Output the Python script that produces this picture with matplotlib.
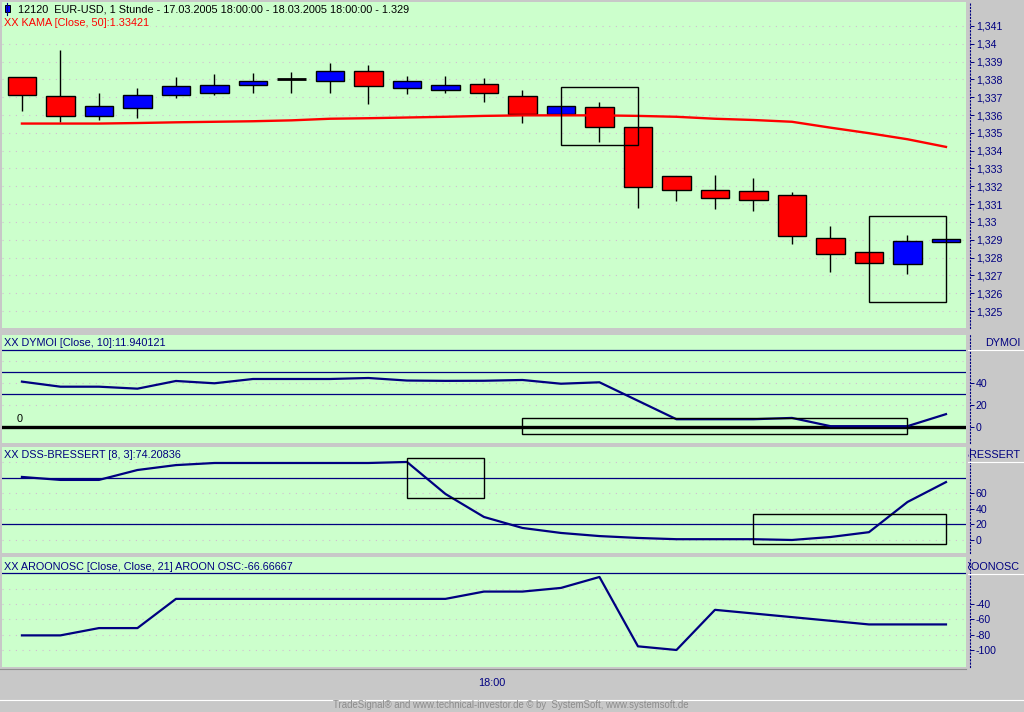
import matplotlib
matplotlib.use('Agg')
import matplotlib.pyplot as plt
from matplotlib.patches import Rectangle
from matplotlib.transforms import Bbox, TransformedBbox

plt.rcParams['font.family'] = ['Liberation Sans', 'DejaVu Sans']
plt.rcParams['axes.unicode_minus'] = False

# EUR-USD, 1 Stunde candles
opens = [1.33816, 1.33708, 1.33593, 1.33641, 1.33711, 1.33725, 1.33767, 1.33801, 1.33792, 1.33847,
         1.33750, 1.33742, 1.33775, 1.33708, 1.33606, 1.33647, 1.33535, 1.33256, 1.33178, 1.33173,
         1.33151, 1.32911, 1.32833, 1.32766, 1.32889]
closes = [1.33711, 1.33593, 1.33648, 1.33714, 1.33764, 1.33769, 1.33793, 1.33801, 1.33847, 1.33764,
          1.33792, 1.33769, 1.33725, 1.33608, 1.33652, 1.33535, 1.33195, 1.33178, 1.33137, 1.33123,
          1.32922, 1.32822, 1.32772, 1.32894, 1.32906]
highs = [1.33816, 1.33966, 1.33726, 1.33749, 1.33816, 1.33832, 1.33838, 1.33843, 1.33894, 1.33883,
         1.33821, 1.33821, 1.33805, 1.33743, 1.33652, 1.33671, 1.33535, 1.33256, 1.33264, 1.33247,
         1.33169, 1.32980, 1.32833, 1.32929, 1.32906]
lows = [1.33622, 1.33559, 1.33574, 1.33583, 1.33695, 1.33711, 1.33723, 1.33723, 1.33723, 1.33661,
        1.33717, 1.33723, 1.33672, 1.33555, 1.33606, 1.33449, 1.33081, 1.33120, 1.33070, 1.33059,
        1.32875, 1.32719, 1.32772, 1.32710, 1.32889]
kama = [1.33552, 1.33552, 1.33552, 1.33555, 1.33559, 1.33562, 1.33565, 1.33570, 1.33579, 1.33582,
        1.33586, 1.33590, 1.33595, 1.33598, 1.33598, 1.33598, 1.33595, 1.33590, 1.33579, 1.33572,
        1.33562, 1.33529, 1.33498, 1.33464, 1.33421]

dymoi = [41.5, 36.9, 36.9, 35.1, 42.1, 40.0, 43.9, 43.9, 43.9, 44.8, 42.5, 42.2, 42.3, 43.0, 39.6,
         40.9, 24.1, 7.3, 7.3, 7.3, 8.5, 1.0, 1.0, 1.0, 11.94]
dss = [80.8, 77.0, 77.0, 89.7, 96.0, 98.7, 98.7, 98.7, 98.7, 98.7, 100.0, 59.0, 29.5, 15.4, 9.0,
       5.0, 2.6, 1.0, 1.0, 1.0, 0.0, 3.8, 10.0, 48.7, 74.21]
aroon = [-80.95, -80.95, -71.43, -71.43, -33.33, -33.33, -33.33, -33.33, -33.33, -33.33, -33.33,
         -33.33, -23.81, -23.81, -19.05, -4.76, -95.24, -100.0, -47.62, -52.38, -57.14, -61.90,
         -66.67, -66.67, -66.67]

# marked boxes: (x from, x to, y low, y high)
boxes_main = [(14, 16, 1.33429, 1.33758), (22, 24, 1.32549, 1.33033)]
boxes_dymoi = [(13, 23, -6.4, 8.2)]
boxes_dss = [(10, 12, 53.8, 105.0), (19, 24, -5.1, 33.3)]

main_ticks = [1.325, 1.326, 1.327, 1.328, 1.329, 1.330, 1.331, 1.332, 1.333, 1.334, 1.335,
              1.336, 1.337, 1.338, 1.339, 1.340, 1.341]
main_labels = ['1,325', '1,326', '1,327', '1,328', '1,329', '1,33', '1,331', '1,332', '1,333',
               '1,334', '1,335', '1,336', '1,337', '1,338', '1,339', '1,34', '1,341']
dymoi_ticks = [0, 20, 40]
dss_ticks = [0, 20, 40, 60]
aroon_ticks = [-100, -80, -60, -40]

W, H = 1024, 712
GREEN = '#ccffcc'
NAVY = '#000080'
GRIDC = '#d2bcd2'
FS = 7.6
TFS = 7.8

fig = plt.figure(figsize=(W / 100, H / 100), dpi=100, facecolor='#c8c8c8')


def panel(top, bottom):
    ax = fig.add_axes([2 / W, 1 - bottom / H, 964 / W, (bottom - top) / H])
    ax.set_facecolor(GREEN)
    for s in ['top', 'left', 'bottom']:
        ax.spines[s].set_visible(False)
    ax.spines['right'].set_position(('outward', 3))
    ax.spines['right'].set_linestyle((0, (1, 2)))
    ax.spines['right'].set_color(NAVY)
    ax.spines['right'].set_linewidth(0.8)
    ax.yaxis.tick_right()
    ax.tick_params(axis='y', direction='out', length=3, width=0.7, color=NAVY,
                   labelcolor=NAVY, labelsize=FS, pad=1)
    ax.set_xticks([])
    ax.set_xlim(-0.518, 24.52)
    return ax


def px(x, y):
    return x / W, 1 - y / H


def dotted(ax, values):
    for v in values:
        ax.axhline(v, color=GRIDC, lw=0.8, ls=(0, (1, 5)), zorder=1)


ax1 = panel(2, 328)
ax2 = panel(335, 443)
ax3 = panel(447, 553)
ax4 = panel(557, 667)

# main price panel
ax1.set_ylim(1.32405, 1.34234)
ax1.set_yticks(main_ticks)
ax1.set_yticklabels(main_labels)
dotted(ax1, main_ticks)
x = list(range(len(opens)))
for i in x:
    o, c, hi, lo = opens[i], closes[i], highs[i], lows[i]
    ax1.vlines(i, lo, hi, color='black', lw=1.0, zorder=2)
    if c == o:
        ax1.hlines(o, i - 0.37, i + 0.37, color='black', lw=2, zorder=3)
    else:
        col = '#0000ff' if c > o else '#ff0000'
        ax1.add_patch(Rectangle((i - 0.37, min(o, c)), 0.74, abs(c - o), facecolor=col,
                                edgecolor='black', lw=1.0, zorder=3))
ax1.plot(x, kama, color='#ff0000', lw=1.7, zorder=4)
for x0, x1, y0, y1 in boxes_main:
    ax1.add_patch(Rectangle((x0, y0), x1 - x0, y1 - y0, fill=False, edgecolor='black', lw=1.0, zorder=5))

# DYMOI
ax2.set_ylim(-14.3, 83.9)
ax2.set_yticks(dymoi_ticks)
dotted(ax2, [20, 40, 60])
for v in [30, 50, 70]:
    ax2.axhline(v, color=NAVY, lw=0.9, zorder=2)
ax2.axhline(0, color='black', lw=2.4, zorder=2)
ax2.plot(x, dymoi, color=NAVY, lw=1.6, zorder=3)
for x0, x1, y0, y1 in boxes_dymoi:
    ax2.add_patch(Rectangle((x0, y0), x1 - x0, y1 - y0, fill=False, edgecolor='black', lw=1.0, zorder=4))

# DSS-BRESSERT
ax3.set_ylim(-16.7, 119.2)
ax3.set_yticks(dss_ticks)
dotted(ax3, [0, 20, 40, 60, 80, 100])
for v in [20, 80]:
    ax3.axhline(v, color=NAVY, lw=0.9, zorder=2)
ax3.plot(x, dss, color=NAVY, lw=1.6, zorder=3)
for x0, x1, y0, y1 in boxes_dss:
    ax3.add_patch(Rectangle((x0, y0), x1 - x0, y1 - y0, fill=False, edgecolor='black', lw=1.0, zorder=4))

# AROONOSC
ax4.set_ylim(-122.2, 21.3)
ax4.set_yticks(aroon_ticks)
dotted(ax4, [-20, -40, -60, -80, -100])
ax4.axhline(0, color=NAVY, lw=0.9, zorder=2)
ax4.plot(x, aroon, color=NAVY, lw=1.6, zorder=3)

# titles
fig.add_artist(plt.Line2D([7 / W, 7 / W], [1 - 3 / H, 1 - 15 / H], color=NAVY, lw=0.8))
fig.add_artist(Rectangle(px(4.5, 12), 5 / W, 7 / H, facecolor='#0000ff', edgecolor='black', lw=0.7))
fig.text(*px(18, 9.5), '12120  EUR-USD, 1 Stunde - 17.03.2005 18:00:00 - 18.03.2005 18:00:00 - 1.329',
         fontsize=TFS, color='black', va='center', ha='left')
fig.text(*px(4, 23), 'XX KAMA [Close, 50]:1.33421', fontsize=TFS, color='#ff0000',
         va='center', ha='left', bbox=dict(facecolor=GREEN, edgecolor='none', pad=0.5))
fig.text(*px(4, 343), 'XX DYMOI [Close, 10]:11.940121', fontsize=TFS, color=NAVY, va='center', ha='left')
fig.text(*px(17, 419), '0', fontsize=TFS, color='black', va='center', ha='left')
fig.text(*px(4, 455), 'XX DSS-BRESSERT [8, 3]:74.20836', fontsize=TFS, color=NAVY, va='center', ha='left',
         bbox=dict(facecolor=GREEN, edgecolor='none', pad=0.5))
fig.text(*px(4, 567), 'XX AROONOSC [Close, Close, 21] AROON OSC:-66.66667', fontsize=TFS, color=NAVY,
         va='center', ha='left')

# panel names in the right strip (clipped like the original)
strip = TransformedBbox(Bbox.from_extents(968 / W, 0, 1, 1), fig.transFigure)
for name, y in [('DYMOI', 343), ('DSS-BRESSERT', 455), ('AROONOSC', 567)]:
    t = fig.text(*px(1020, y), name, fontsize=TFS, color=NAVY, va='center', ha='right')
    t.set_clip_on(True)
    t.set_clip_box(strip)
for y in [350, 462, 574]:
    fig.add_artist(plt.Line2D([968 / W, 1], [1 - y / H] * 2, color='white', lw=0.8))

# time axis and footer
fig.add_artist(plt.Line2D([0, 966 / W], [1 - 668.5 / H] * 2, color='#909090', lw=0.8))
fig.add_artist(plt.Line2D([0, 1], [1 - 699.5 / H] * 2, color='white', lw=0.8))
fig.text(*px(492, 683), '18:00', fontsize=TFS, color=NAVY, va='center', ha='center')
fig.text(*px(511, 705.5), 'TradeSignal® and www.technical-investor.de © by  SystemSoft, www.systemsoft.de',
         fontsize=6.9, color='#8c8c8c', va='center', ha='center')

fig.savefig('out.png', dpi=100, facecolor=fig.get_facecolor())
